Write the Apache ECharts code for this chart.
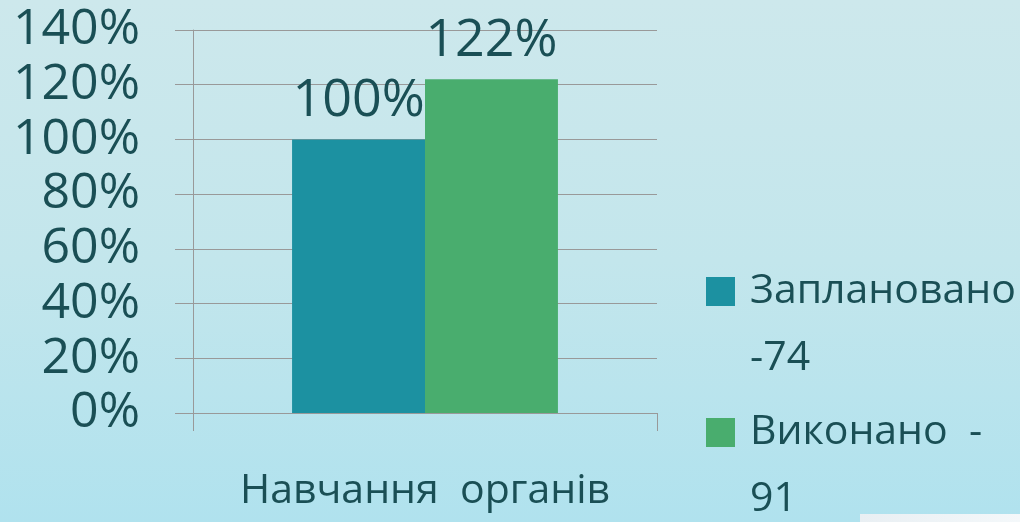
<!DOCTYPE html>
<html>
<head>
<meta charset="utf-8">
<script src="https://cdn.jsdelivr.net/npm/echarts@6/dist/echarts.min.js"></script>
<style>
html,body{margin:0;padding:0;}
#chart{width:1020px;height:522px;}
</style>
</head>
<body>
<div id="chart"></div>
<script>
const categories = ['Навчання  органів'];
const seriesNames = ['Заплановано -74', 'Виконано  - 91'];
const plannedValues = [100];
const doneValues = [122];
const yTicks = { min: 0, max: 140, interval: 20 };

const textColor = '#1a4f55';
const font = 'Open Sans';

const chart = echarts.init(document.getElementById('chart'));
chart.setOption({
  backgroundColor: {
    type: 'linear', x: 0, y: 0, x2: 0, y2: 1,
    colorStops: [
      { offset: 0, color: '#cde8ec' },
      { offset: 0.5, color: '#c3e6ec' },
      { offset: 1, color: '#b0e2ee' }
    ]
  },
  animation: false,
  grid: { left: 193, right: 363, top: 30, bottom: 109, containLabel: false },
  xAxis: {
    type: 'category',
    data: categories,
    axisLine: { show: true, lineStyle: { color: '#999999', width: 1 } },
    axisTick: { show: true, length: 18, lineStyle: { color: '#999999' } },
    axisLabel: { color: textColor, fontFamily: font, fontSize: 41, margin: 58 }
  },
  yAxis: {
    type: 'value',
    min: yTicks.min, max: yTicks.max, interval: yTicks.interval,
    axisLine: { show: true, lineStyle: { color: '#999999', width: 1 } },
    axisTick: { show: true, length: 18, lineStyle: { color: '#999999' } },
    splitLine: { show: true, lineStyle: { color: '#999999', width: 1 } },
    axisLabel: { color: textColor, fontFamily: font, fontSize: 50, margin: 53, formatter: '{value}%' }
  },
  legend: {
    orient: 'vertical',
    left: 706,
    top: 191,
    height: 600,
    padding: 0,
    itemWidth: 29,
    itemHeight: 29,
    itemGap: -60,
    icon: 'rect',
    data: seriesNames,
    formatter: function (name) {
      const i = name.lastIndexOf(' ');
      return ' \n' + name.slice(0, i) + '\n' + name.slice(i + 1);
    },
    textStyle: { color: textColor, fontFamily: font, fontSize: 41, lineHeight: 67, padding: [0, 0, 0, 10] }
  },
  series: [
    {
      name: seriesNames[0], type: 'bar', data: plannedValues,
      barGap: '0%', barCategoryGap: '42.7%',
      itemStyle: { color: '#1c91a1' },
      label: { show: true, position: 'top', distance: 12, formatter: '{c}%', color: textColor, fontFamily: font, fontSize: 52 }
    },
    {
      name: seriesNames[1], type: 'bar', data: doneValues,
      barGap: '0%', barCategoryGap: '42.7%',
      itemStyle: { color: '#49ad6e' },
      label: { show: true, position: 'top', distance: 12, formatter: '{c}%', color: textColor, fontFamily: font, fontSize: 52 }
    }
  ],
  graphic: [
    {
      type: 'rect', right: 0, bottom: 0,
      shape: { width: 160, height: 8 },
      style: {
        fill: { type: 'linear', x: 0, y: 0, x2: 1, y2: 0,
          colorStops: [{ offset: 0, color: '#e9eff3' }, { offset: 1, color: '#f4f8fa' }] }
      },
      silent: true
    }
  ]
});
</script>
</body>
</html>
